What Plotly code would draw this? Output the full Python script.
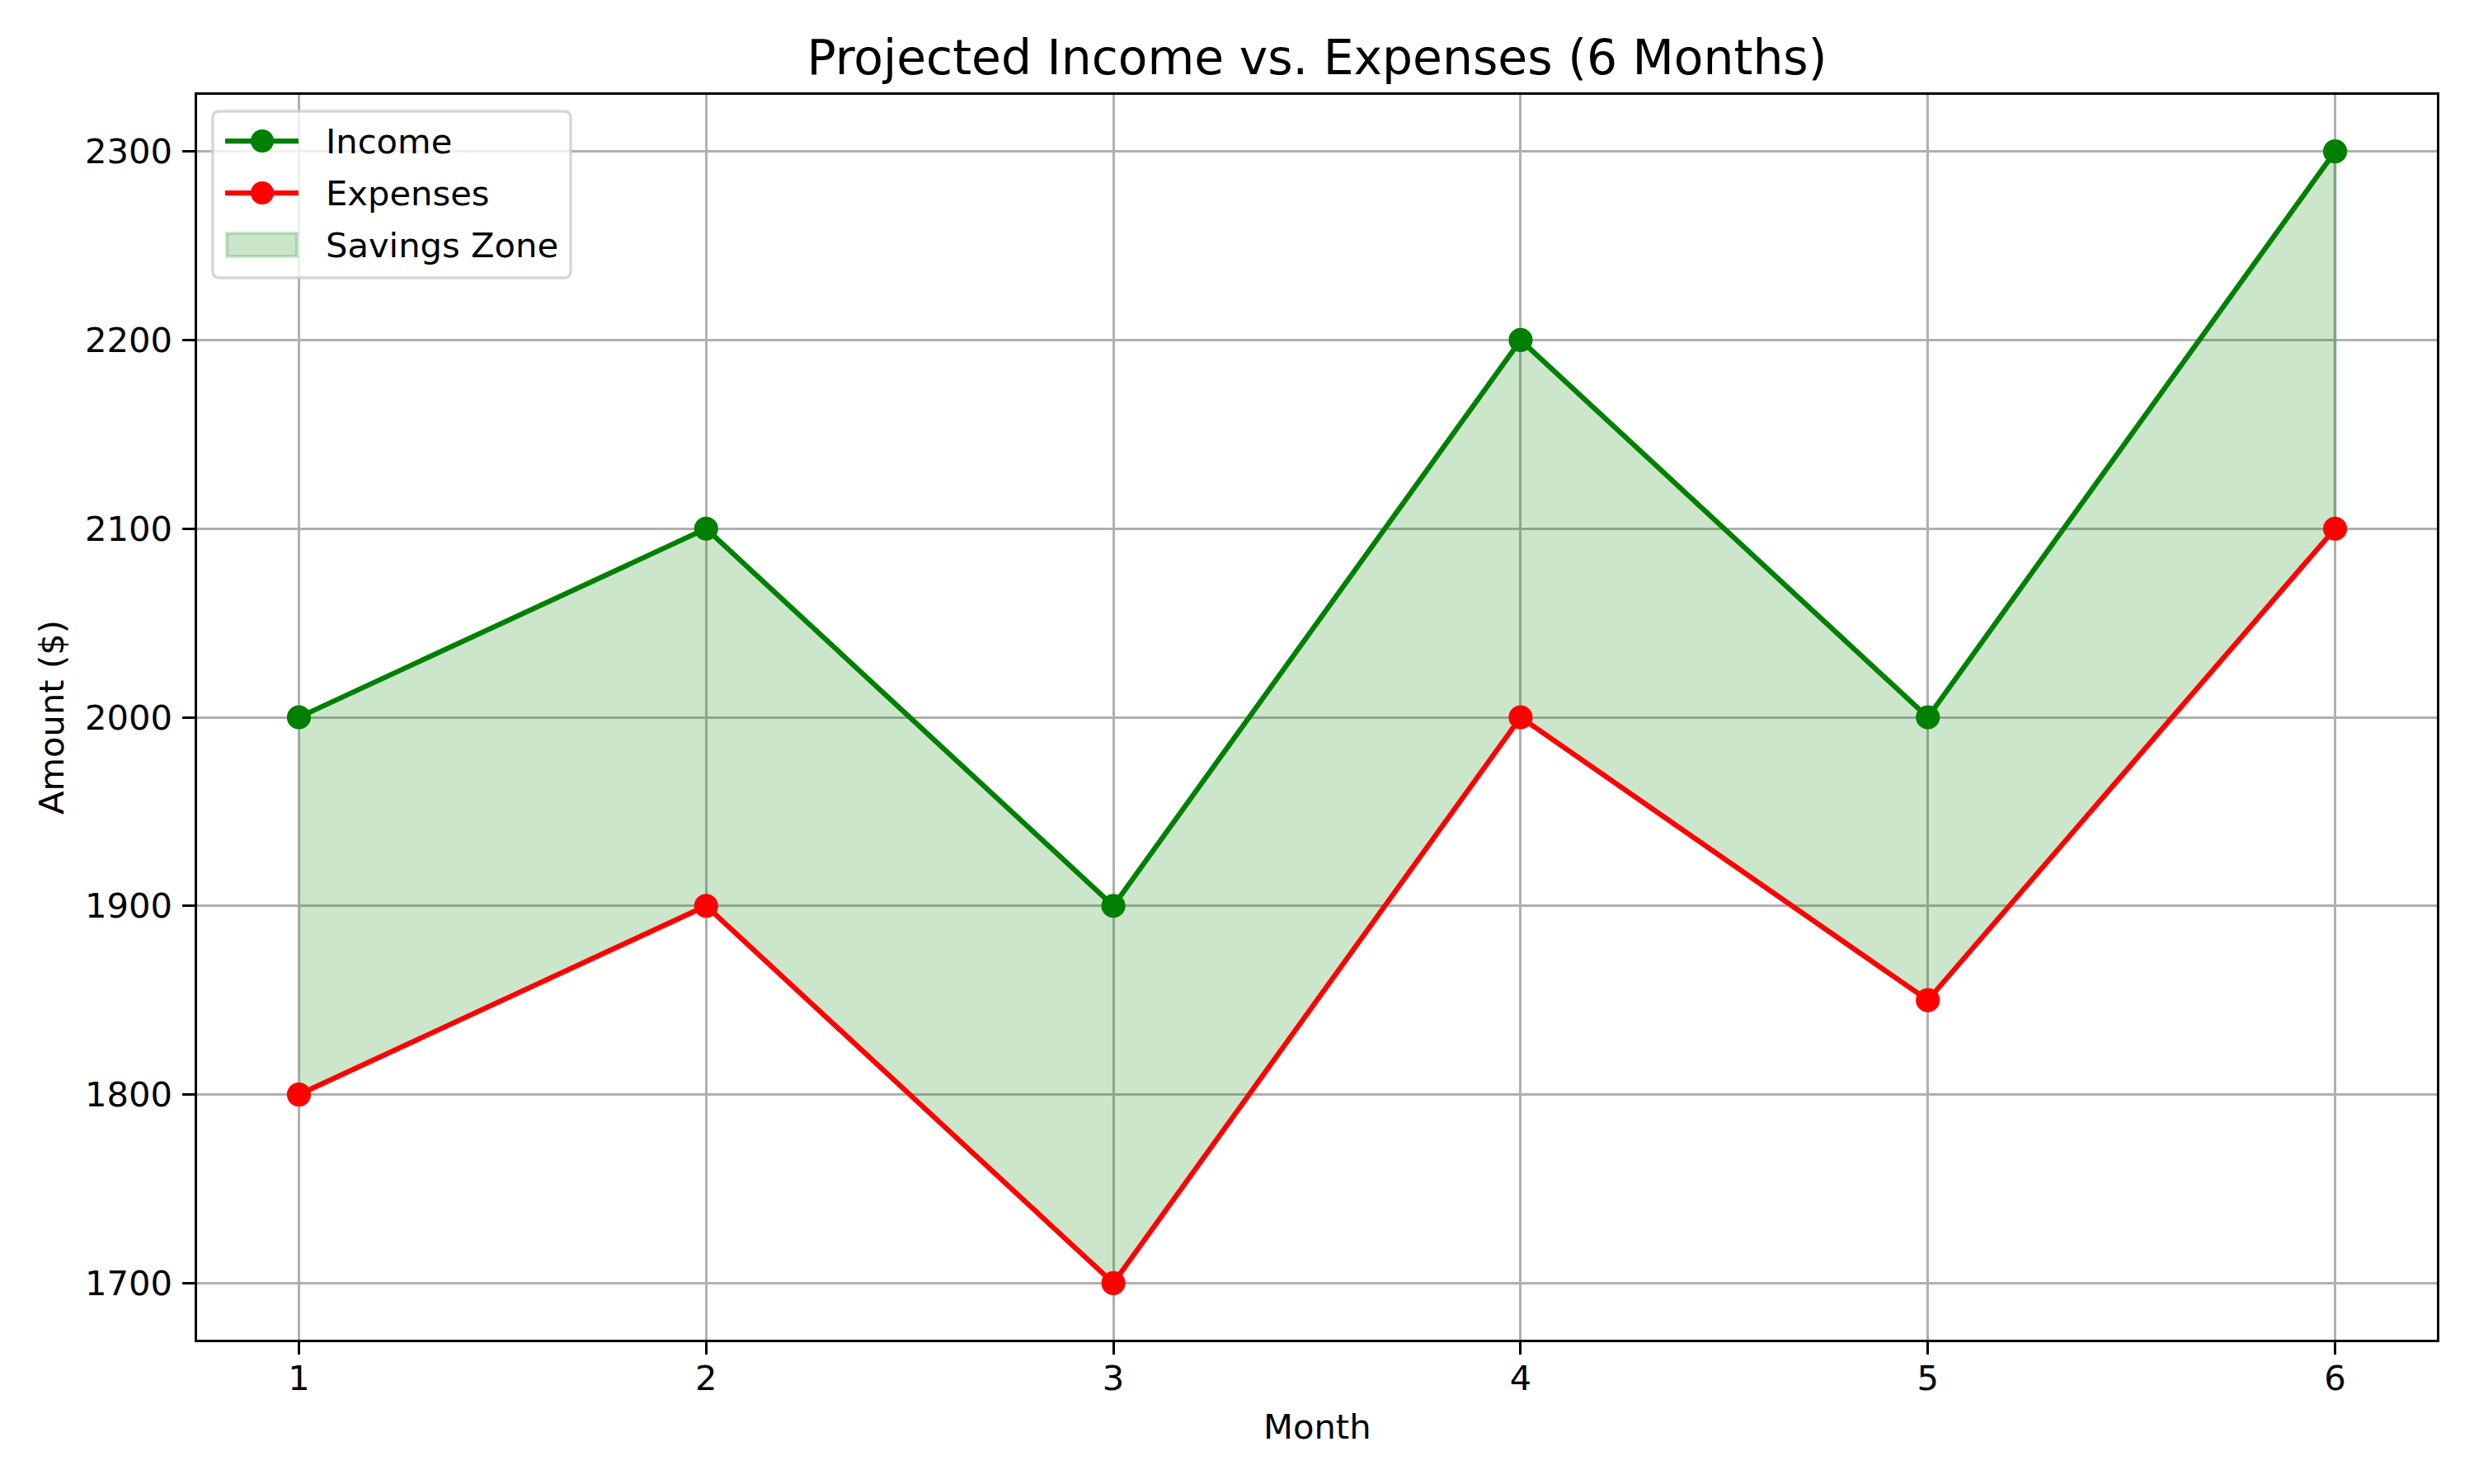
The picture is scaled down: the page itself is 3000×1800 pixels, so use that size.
import plotly.graph_objects as go

months = [1, 2, 3, 4, 5, 6]
income = [2000, 2100, 1900, 2200, 2000, 2300]
expenses = [1800, 1900, 1700, 2000, 1850, 2100]
title_text = "Projected Income vs. Expenses (6 Months)"
xtick_vals = [1, 2, 3, 4, 5, 6]
ytick_vals = [1700, 1800, 1900, 2000, 2100, 2200, 2300]
legend_labels = ["Income", "Expenses", "Savings Zone"]

FONT = "DejaVu Sans"
PT = 300 / 72.0
W, H = 3000, 1800
L, R, T, B = 239, 45, 115, 175
PW, PH = W - L - R, H - T - B


def px(x):
    return (x - L) / PW


def py(y):
    return 1 - (y - T) / PH


fig = go.Figure()

# Savings zone polygon between income and expenses
fig.add_trace(go.Scatter(
    x=months + months[::-1],
    y=income + expenses[::-1],
    fill="toself",
    fillcolor="rgba(0,128,0,0.2)",
    line=dict(color="rgba(0,128,0,0.2)", width=1 * PT),
    mode="lines",
    name=legend_labels[2],
    showlegend=False,
    hoverinfo="skip",
))

fig.add_trace(go.Scatter(
    x=months, y=income, mode="lines+markers", name=legend_labels[0],
    line=dict(color="green", width=1.5 * PT),
    marker=dict(color="green", size=6 * PT, line=dict(color="green", width=1 * PT)),
    showlegend=False,
))
fig.add_trace(go.Scatter(
    x=months, y=expenses, mode="lines+markers", name=legend_labels[1],
    line=dict(color="red", width=1.5 * PT),
    marker=dict(color="red", size=6 * PT, line=dict(color="red", width=1 * PT)),
    showlegend=False,
))

axis_common = dict(
    showline=True, mirror=True, linecolor="black", linewidth=0.8 * PT,
    showgrid=True, gridcolor="#b0b0b0", gridwidth=0.8 * PT,
    zeroline=False, ticks="outside", ticklen=3.5 * PT, tickwidth=0.8 * PT,
    tickcolor="black", tickfont=dict(family=FONT, size=10 * PT, color="black"),
)

fig.update_xaxes(range=[0.75, 6.25], tickvals=xtick_vals, ticklabelstandoff=-7, **axis_common)
fig.update_yaxes(range=[1670, 2330], tickvals=ytick_vals, ticklabelstandoff=4, **axis_common)

# ---- custom legend (frame + handles + labels) ----
shapes = []
annotations = []
fx0, fx1, fy0, fy1, rr = 258, 692, 135, 337, 8
frame_path = (
    f"M {px(fx0 + rr)},{py(fy0)} L {px(fx1 - rr)},{py(fy0)} "
    f"Q {px(fx1)},{py(fy0)} {px(fx1)},{py(fy0 + rr)} "
    f"L {px(fx1)},{py(fy1 - rr)} Q {px(fx1)},{py(fy1)} {px(fx1 - rr)},{py(fy1)} "
    f"L {px(fx0 + rr)},{py(fy1)} Q {px(fx0)},{py(fy1)} {px(fx0)},{py(fy1 - rr)} "
    f"L {px(fx0)},{py(fy0 + rr)} Q {px(fx0)},{py(fy0)} {px(fx0 + rr)},{py(fy0)} Z"
)
shapes.append(dict(type="path", xref="paper", yref="paper", path=frame_path,
                   fillcolor="rgba(255,255,255,0.8)",
                   line=dict(color="rgba(204,204,204,0.8)", width=0.8 * PT), layer="above"))

hx0, hx1, hxc = 273, 362, 318
rows = [171, 234, 297]
colors = ["green", "red"]
for i in range(2):
    yc = rows[i]
    shapes.append(dict(type="line", xref="paper", yref="paper",
                       x0=px(hx0), x1=px(hx1), y0=py(yc), y1=py(yc),
                       line=dict(color=colors[i], width=1.5 * PT), layer="above"))
    rad = 14
    shapes.append(dict(type="circle", xref="paper", yref="paper",
                       x0=px(hxc - rad), x1=px(hxc + rad), y0=py(yc - rad), y1=py(yc + rad),
                       fillcolor=colors[i], line=dict(color=colors[i], width=0), layer="above"))
shapes.append(dict(type="rect", xref="paper", yref="paper",
                   x0=px(275), x1=px(360), y0=py(rows[2] - 14), y1=py(rows[2] + 14),
                   fillcolor="rgba(0,128,0,0.2)",
                   line=dict(color="rgba(0,128,0,0.2)", width=1 * PT), layer="above"))
for i, lab in enumerate(legend_labels):
    annotations.append(dict(text=lab, xref="paper", yref="paper", x=px(393), y=py(rows[i]),
                            xanchor="left", yanchor="middle", showarrow=False,
                            font=dict(family=FONT, size=10 * PT, color="black")))

annotations += [
    dict(text="Month", xref="paper", yref="paper", x=0.5, y=py(1730),
         xanchor="center", yanchor="middle", showarrow=False,
         font=dict(family=FONT, size=10 * PT, color="black")),
    dict(text="Amount ($)", xref="paper", yref="paper", x=px(62), y=0.5,
         xanchor="center", yanchor="middle", showarrow=False, textangle=-90,
         font=dict(family=FONT, size=10 * PT, color="black")),
]

fig.update_layout(
    width=W, height=H,
    margin=dict(l=L, r=R, t=T, b=B, autoexpand=False),
    paper_bgcolor="white", plot_bgcolor="white",
    font=dict(family=FONT, color="black", size=10 * PT),
    title=dict(text=title_text, x=0.5, xref="paper", y=1 - 70 / H, yref="container",
               xanchor="center", yanchor="middle",
               font=dict(family=FONT, size=14 * PT, color="black")),
    showlegend=False,
    shapes=shapes,
    annotations=annotations,
)

fig.write_html("out.html", config={"displayModeBar": False},
               post_script="document.body.style.margin='0';")
